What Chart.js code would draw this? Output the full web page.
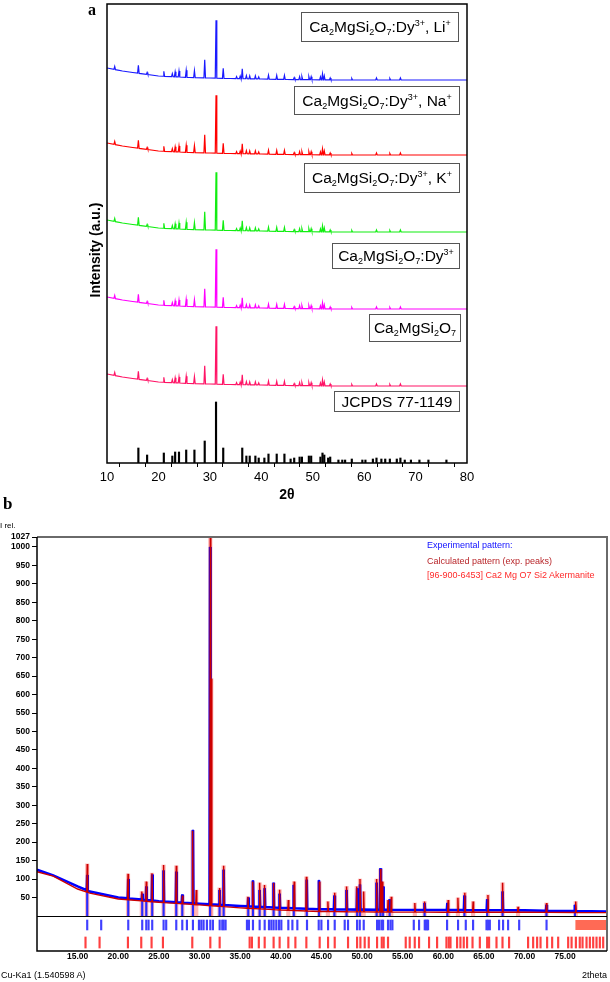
<!DOCTYPE html>
<html><head><meta charset="utf-8">
<script src="https://cdn.jsdelivr.net/npm/chart.js@4.4.0/dist/chart.umd.min.js"></script>
<style>
body{margin:0;background:#fff;}
#wrap{position:relative;width:610px;height:982px;overflow:hidden;font-family:"Liberation Sans",Arial,sans-serif;color:#000;}
canvas{position:absolute;left:0;}
.ann{position:absolute;white-space:nowrap;z-index:5;}
.box{position:absolute;box-sizing:border-box;border:1px solid #555;display:flex;align-items:center;justify-content:center;font-size:15.5px;white-space:nowrap;z-index:5;}
.box span{display:inline-block;line-height:16px;}
.box sub{font-size:58%;vertical-align:-3px;line-height:0;}
.box sup{font-size:58%;vertical-align:6px;line-height:0;}
.leg{position:absolute;left:427px;font-size:9px;line-height:10px;white-space:nowrap;z-index:5;}
</style></head>
<body><div id="wrap">
<canvas id="chartA" width="610" height="505" style="top:0"></canvas>
<canvas id="chartB" width="610" height="482" style="top:500px"></canvas>

<div class="ann" style="left:88px;top:1px;font:bold 16px 'Liberation Serif',serif;">a</div>
<div class="ann" style="left:95px;top:249.5px;transform:translate(-50%,-50%) rotate(-90deg);font:bold 14px 'Liberation Sans',Arial;">Intensity (a.u.)</div>
<div class="box" style="left:301px;top:12px;width:158px;height:30px;"><span>Ca<sub>2</sub>MgSi<sub>2</sub>O<sub>7</sub>:Dy<sup>3+</sup>, Li<sup>+</sup></span></div>
<div class="box" style="left:294px;top:86px;width:166px;height:29px;"><span>Ca<sub>2</sub>MgSi<sub>2</sub>O<sub>7</sub>:Dy<sup>3+</sup>, Na<sup>+</sup></span></div>
<div class="box" style="left:304px;top:163px;width:156px;height:30px;"><span>Ca<sub>2</sub>MgSi<sub>2</sub>O<sub>7</sub>:Dy<sup>3+</sup>, K<sup>+</sup></span></div>
<div class="box" style="left:332px;top:243px;width:128px;height:26px;"><span>Ca<sub>2</sub>MgSi<sub>2</sub>O<sub>7</sub>:Dy<sup>3+</sup></span></div>
<div class="box" style="left:369px;top:314px;width:92px;height:28px;"><span>Ca<sub>2</sub>MgSi<sub>2</sub>O<sub>7</sub></span></div>
<div class="box" style="left:334px;top:391px;width:126px;height:21px;"><span>JCPDS 77-1149</span></div>

<div class="ann" style="left:3px;top:494px;font:bold 17px 'Liberation Serif',serif;">b</div>
<div class="ann" style="left:0px;top:521px;font-size:8px;">I rel.</div>
<div class="leg" style="top:540px;color:#1010ff;">Experimental pattern:</div>
<div class="leg" style="top:556px;color:#b8262a;">Calculated pattern (exp. peaks)</div>
<div class="leg" style="top:570px;color:#ff2a2a;">[96-900-6453] Ca2 Mg O7 Si2 Akermanite</div>
<div class="ann" style="left:1px;top:970px;font-size:9px;">Cu-Ka1 (1.540598 A)</div>
</div>
<script>
// ---------------- Panel (a) data ----------------
const sampleNames = ["Ca2MgSi2O7:Dy3+, Li+", "Ca2MgSi2O7:Dy3+, Na+", "Ca2MgSi2O7:Dy3+, K+", "Ca2MgSi2O7:Dy3+", "Ca2MgSi2O7"];
const sampleOffsets = [383, 308, 231, 154, 77];           // stacking baseline of each pattern (a.u.)
const bgTheta = [10, 13, 15, 20, 26, 30, 34, 40, 45, 55, 80];
const bgLevel = [12, 9, 7.5, 4, 2.5, 2, 1.5, 1, 0.5, 0, 0];
const peakTheta = [11.5,16.1,17.8,21.05,22.7,23.25,24.0,25.4,27.0,29.0,31.2,32.6,35.2,35.9,36.3,37.1,37.75,38.85,39.5,41.4,43.0,44.5,46.4,47.45,47.9,49.25,49.7,51.5,51.9,52.25,53.4,57.6,62.4,65.0,67.05];
const peakHeight = [3,8,2,5,3,5,6,7,7,18,58,10,2,2.5,10,3,3,3,2,4,4,4,2,3,3,3,3,3,6,4,2,1.5,2,1.5,2];
const jcpdsTheta = [16.1,17.8,21.05,22.7,23.25,24.0,25.4,27.0,29.0,31.2,32.6,36.3,37.1,37.75,38.85,39.5,40.6,41.4,43.0,44.5,45.7,46.4,47.45,47.9,49.25,49.7,51.5,51.9,52.25,53.0,53.4,55.0,55.75,56.3,57.6,59.65,60.25,61.7,62.4,63.35,64.1,65.0,66.35,67.05,67.9,69.1,70.75,72.5,76.0];
const jcpdsHeight = [15,8,10,7,11,11,13,13,22,61,15,15,7,7,7,5,5,9,9,9,4,5,6,6,7,7,6,10,8,5,6,3,3,3,4,3,3,4,5,4,4,4,4,5,3,3,3,3,3];
const topMajorTicks = [10,20,30,40,50,60,70,80];
const topMinorTicks = [15,25,35,45,55,65,75];

// ---------------- Panel (b) data ----------------
const bgThetaB = [10,12,15,16.5,20,25,30,35,40,45,50,60,70,80.15];
const calcBg = [120,108,73,62,46,37,30,22,16,12,11,10,10,9];
const expBg  = [125,110,80,66,50,40,33,27,22,18,17,16,15,12];
const calcPeakTheta = [16.18,21.2,22.9,23.45,24.15,25.58,27.14,27.9,29.15,29.6,31.33,31.45,32.47,32.97,35.96,36.55,37.4,38.0,39.12,39.86,40.93,41.65,43.15,44.75,45.8,46.64,48.1,49.35,49.75,50.2,51.8,52.27,52.5,53.2,53.6,56.5,57.7,60.6,61.8,62.65,63.67,65.5,67.3,69.2,72.7,76.3];
const calcPeakTop = [141,114,66,93,116,138,136,55,231,70,1027,643,76,136,52,93,90,84,89,71,43,93,106,93,39,63,80,80,100,66,100,127,93,43,52,35,39,43,49,63,39,57,90,25,35,39];
const expPeakTheta = [16.18,21.23,22.95,23.45,24.18,25.58,27.14,27.88,29.19,31.3,32.47,32.97,36.0,36.58,37.4,38.02,39.12,39.86,41.6,43.2,44.7,46.6,48.1,49.4,49.75,51.8,52.27,52.6,53.4,57.7,60.5,62.6,65.4,67.3,72.7,76.2];
const expPeakTop = [111,100,60,80,112,123,120,58,233,1000,70,125,50,96,70,75,90,60,84,98,97,55,70,75,85,90,129,80,45,35,35,55,45,66,30,30];
const blueTickTheta = [16.18,17.9,21.23,22.95,23.45,23.73,24.18,25.58,25.9,27.14,27.88,28.45,29.19,29.93,30.22,30.5,30.91,31.33,31.65,32.48,32.8,32.97,33.21,35.84,36.08,36.58,37.4,38.02,38.55,38.84,39.12,39.45,39.78,40.07,40.93,41.43,42.04,43.23,44.67,45.0,45.82,46.64,47.87,48.28,49.39,49.72,50.21,51.85,52.1,52.39,52.59,53.2,53.5,53.74,56.37,57.02,57.72,57.84,58.0,58.13,60.47,61.82,62.77,63.67,65.32,65.52,65.73,66.87,67.36,67.98,69.34,72.71];
const redTickTheta = [15.97,17.7,21.19,22.83,24.1,25.5,29.11,31.33,32.48,36.17,36.45,37.3,38.02,39.12,39.86,40.93,41.8,43.15,44.79,45.82,46.64,48.28,49.39,49.8,50.33,50.83,51.85,52.43,52.67,53.2,55.38,55.87,56.49,57.02,58.25,59.24,60.39,60.68,60.89,61.7,62.11,62.52,62.93,63.6,64.5,65.4,65.64,66.55,67.29,68.1,70.44,71.06,71.55,71.97,72.78,73.4,74.14,75.37,75.79,76.32,76.8,77.14,77.63,78.04,78.45,78.86,79.27,79.68];
const blueTickRange = [-38, -11];
const redTickRange = [-87, -57];
const denseBlockTheta = [76.24, 80.15];
const yTicksB = [50,100,150,200,250,300,350,400,450,500,550,600,650,700,750,800,850,900,950,1000,1027];
const xTicksB = [15,20,25,30,35,40,45,50,55,60,65,70,75];

// ---------------- helpers ----------------
function interp(xs, ys, x){
  for(let i=0;i<xs.length-1;i++){
    if(x>=xs[i] && x<=xs[i+1]) return ys[i]+(ys[i+1]-ys[i])*(x-xs[i])/(xs[i+1]-xs[i]);
  }
  return x<xs[0]?ys[0]:ys[ys.length-1];
}
function patternRel(offset, kx, ky, px, ph, w){
  const pts = kx.map((x,i)=>({x, y: offset+ky[i]}));
  px.forEach((p,i)=>{
    pts.push({x:p-w, y: offset+interp(kx,ky,p-w)});
    pts.push({x:p,   y: offset+interp(kx,ky,p)+ph[i]});
    pts.push({x:p+w, y: offset+interp(kx,ky,p+w)});
  });
  return pts.sort((a,b)=>a.x-b.x);
}
function patternAbs(kx, ky, px, pt, w){
  const pts = kx.map((x,i)=>({x, y: ky[i]}));
  px.forEach((p,i)=>{
    pts.push({x:p-w, y: interp(kx,ky,p-w)});
    pts.push({x:p,   y: pt[i]});
    pts.push({x:p+w, y: interp(kx,ky,p+w)});
  });
  return pts.sort((a,b)=>a.x-b.x);
}

Chart.defaults.font.family = "'Liberation Sans', Arial, sans-serif";
Chart.defaults.color = '#000';

// ---------------- Chart (a) ----------------
const traceColors = ['#1a1aff', '#ff0000', '#11ee11', '#ff00ff', '#ff1466'];
const frameA = {id:'frameA', afterDatasetsDraw(chart){
  const {ctx, chartArea:a} = chart;
  ctx.save(); ctx.strokeStyle='#000'; ctx.lineWidth=1.5;
  ctx.strokeRect(a.left, a.top, a.right-a.left, a.bottom-a.top);
  ctx.restore();
}};
const dsA = sampleNames.map((name,i)=>({
  type:'line', label:name,
  data: patternRel(sampleOffsets[i], bgTheta, bgLevel, peakTheta, peakHeight, 0.15),
  borderColor: traceColors[i], borderWidth:1.2, pointRadius:0, fill:false, tension:0
}));
dsA.push({
  type:'bar', label:'JCPDS 77-1149',
  data: jcpdsTheta.map((x,i)=>({x, y:jcpdsHeight[i]})),
  backgroundColor:'#000', barThickness:1.5, grouped:false
});
new Chart(document.getElementById('chartA'), {
  type:'line',
  data:{datasets: dsA},
  options:{
    responsive:false, animation:false, devicePixelRatio:1,
    layout:{padding:{left:0, right:143, top:4, bottom:0}},
    plugins:{legend:{display:false}, tooltip:{enabled:false}},
    scales:{
      x:{type:'linear', min:10, max:80, offset:false,
        afterBuildTicks(s){ s.ticks = topMajorTicks.concat(topMinorTicks).sort((a,b)=>a-b).map(v=>({value:v})); },
        afterFit(s){ s.height = 42; },
        ticks:{autoSkip:false, maxRotation:0, padding:3, font:{size:13},
          callback:(v)=> topMajorTicks.includes(v) ? String(v) : ''},
        grid:{display:true, drawOnChartArea:false, drawTicks:true, tickLength:4, color:'#000', lineWidth:1},
        border:{display:false},
        title:{display:true, text:'2θ', font:{size:14, weight:'bold'}, padding:{top:0, bottom:1}}
      },
      y:{type:'linear', min:0, max:459,
        afterFit(s){ s.width = 107; },
        ticks:{display:false}, grid:{display:false}, border:{display:false}
      }
    }
  },
  plugins:[frameA]
});

// ---------------- Chart (b) ----------------
const frameB = {id:'frameB', afterDatasetsDraw(chart){
  const {ctx, chartArea:a, scales:{y}} = chart;
  ctx.save();
  ctx.strokeStyle='#6a6a6a'; ctx.lineWidth=2;
  ctx.beginPath(); ctx.moveTo(a.left, a.top); ctx.lineTo(a.right, a.top); ctx.lineTo(a.right, a.bottom); ctx.stroke();
  ctx.strokeStyle='#000'; ctx.lineWidth=1.5;
  ctx.beginPath();
  ctx.moveTo(a.left, a.top); ctx.lineTo(a.left, a.bottom); ctx.lineTo(a.right, a.bottom);
  ctx.stroke();
  ctx.lineWidth=1.2;
  const z = Math.round(y.getPixelForValue(0))+0.5;
  ctx.beginPath(); ctx.moveTo(a.left, z); ctx.lineTo(a.right, z); ctx.stroke();
  ctx.restore();
}};
const dsB = [
  {type:'line', label:'Calculated pattern (exp. peaks)',
   data: patternAbs(bgThetaB, calcBg, calcPeakTheta, calcPeakTop, 0.06),
   borderColor:'#cc0000', borderWidth:1.4, pointRadius:0, fill:false, tension:0, order:0},
  {type:'line', label:'Experimental pattern',
   data: patternAbs(bgThetaB, expBg, expPeakTheta, expPeakTop, 0.06),
   borderColor:'#0000ff', borderWidth:2.6, pointRadius:0, fill:false, tension:0, order:1},
  {type:'bar', label:'exp peaks',
   data: expPeakTheta.map((x,i)=>({x, y:[0, expPeakTop[i]]})),
   backgroundColor:'#2a2aff', barThickness:1.5, grouped:false, order:2},
  {type:'bar', label:'calc peak area',
   data: calcPeakTheta.map((x,i)=>({x, y:[0, calcPeakTop[i]]})),
   backgroundColor:'rgba(255,90,90,0.45)', barThickness:3.5, grouped:false, order:3},
  {type:'bar', label:'experimental peak positions',
   data: blueTickTheta.map(x=>({x, y:blueTickRange})),
   backgroundColor:'#4040ff', barThickness:1.5, grouped:false, order:2},
  {type:'bar', label:'[96-900-6453] Akermanite',
   data: redTickTheta.map(x=>({x, y:redTickRange})),
   backgroundColor:'#ff4040', barThickness:1.5, grouped:false, order:2},
  {type:'line', label:'dense reflections',
   data: denseBlockTheta.map(x=>({x, y:blueTickRange[1]})),
   borderColor:'#ff6a55', borderWidth:0, pointRadius:0, backgroundColor:'#ff6a55',
   fill:{value: blueTickRange[0]}, order:4}
];
new Chart(document.getElementById('chartB'), {
  type:'line',
  data:{datasets: dsB},
  options:{
    responsive:false, animation:false, devicePixelRatio:1,
    layout:{padding:{left:0, right:3, top:37, bottom:0}},
    plugins:{legend:{display:false}, tooltip:{enabled:false}},
    scales:{
      x:{type:'linear', min:10, max:80.15, offset:false,
        afterBuildTicks(s){ s.ticks = xTicksB.map(v=>({value:v})); },
        afterFit(s){ s.height = 31; },
        ticks:{autoSkip:false, maxRotation:0, padding:1, font:{size:8.5, weight:'bold'},
          callback:(v)=> Number(v).toFixed(2)},
        grid:{display:false, drawTicks:false},
        border:{display:false},
        title:{display:true, text:'2theta', align:'end', font:{size:9}, padding:{top:0, bottom:1}}
      },
      y:{type:'linear', min:-95, max:1027,
        afterBuildTicks(s){ s.ticks = yTicksB.map(v=>({value:v})); },
        afterFit(s){ s.width = 37; },
        ticks:{autoSkip:false, padding:2, font:{size:8.5, weight:'bold'}, callback:(v)=>String(v)},
        grid:{display:true, drawOnChartArea:false, drawTicks:true, tickLength:5, color:'#000', lineWidth:1},
        border:{display:false}
      }
    }
  },
  plugins:[frameB]
});
</script>
</body></html>
